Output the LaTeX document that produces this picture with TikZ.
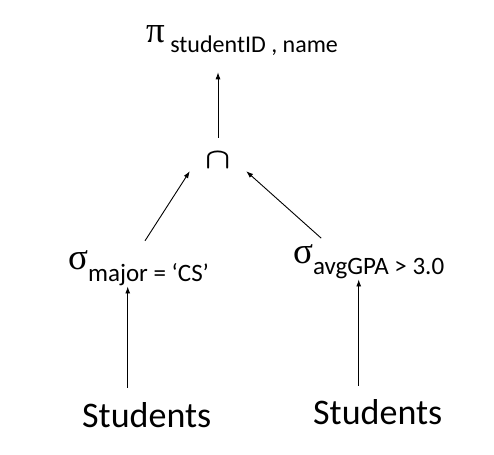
\documentclass[tikz,border=0pt]{standalone}
\usepackage{fontspec}
\setmainfont{Carlito}
\newfontfamily\grk{Liberation Serif}
\usetikzlibrary{arrows.meta,positioning}

\tikzset{
  lbl/.style={inner sep=0pt, anchor=base west},
  arr/.style={-{Latex[length=7pt,width=5pt]}, line width=0.9pt},
}
\newcommand{\opsym}[1]{{\grk\fontsize{37}{42}\selectfont #1}}
\newcommand{\opsub}[2]{\raisebox{#1}{\fontsize{25}{29}\selectfont #2}}

\begin{document}
\begin{tikzpicture}[x=1pt,y=1pt]
  \useasboundingbox (0,0) rectangle (494,454);
  % operators
  \node[lbl] (proj) at (146,411) {\opsym{π}\raisebox{-10pt}{\fontsize{24}{28}\selectfont\ studentID , name}};
  \node[inner sep=0pt, minimum width=56pt, minimum height=22pt] (cap) at (218,294) {\scalebox{3.3}[2.9]{\boldmath$\cap$}};
  \node[lbl] (selL) at (68,184) {\opsym{σ}\opsub{-12pt}{major = ‘CS’}};
  \node[lbl] (selR) at (293,190) {\opsym{σ}\opsub{-11pt}{avgGPA > 3.0}};
  % relations
  \node[lbl] (relL) at (82,27) {\fontsize{36}{40}\selectfont Students};
  \node[lbl] (relR) at (313,29) {\fontsize{36}{40}\selectfont Students};
  % edges
  \draw[arr, shorten <=11pt, shorten >=16pt] (cap.north) -- (cap.north |- proj.south);
  \draw[arr, shorten <=12pt] (selL.north) -- (cap.south west);
  \draw[arr, shorten <=10pt] ([xshift=-40pt]selR.north) -- (cap.south east);
  \draw[arr, shorten <=14pt] ([xshift=-19pt]relL.north) -- ([xshift=-19pt]relL.north |- selL.south);
  \draw[arr, shorten <=14pt] ([xshift=-19pt]relR.north) -- ([xshift=-19pt]relR.north |- selR.south);
\end{tikzpicture}
\end{document}
